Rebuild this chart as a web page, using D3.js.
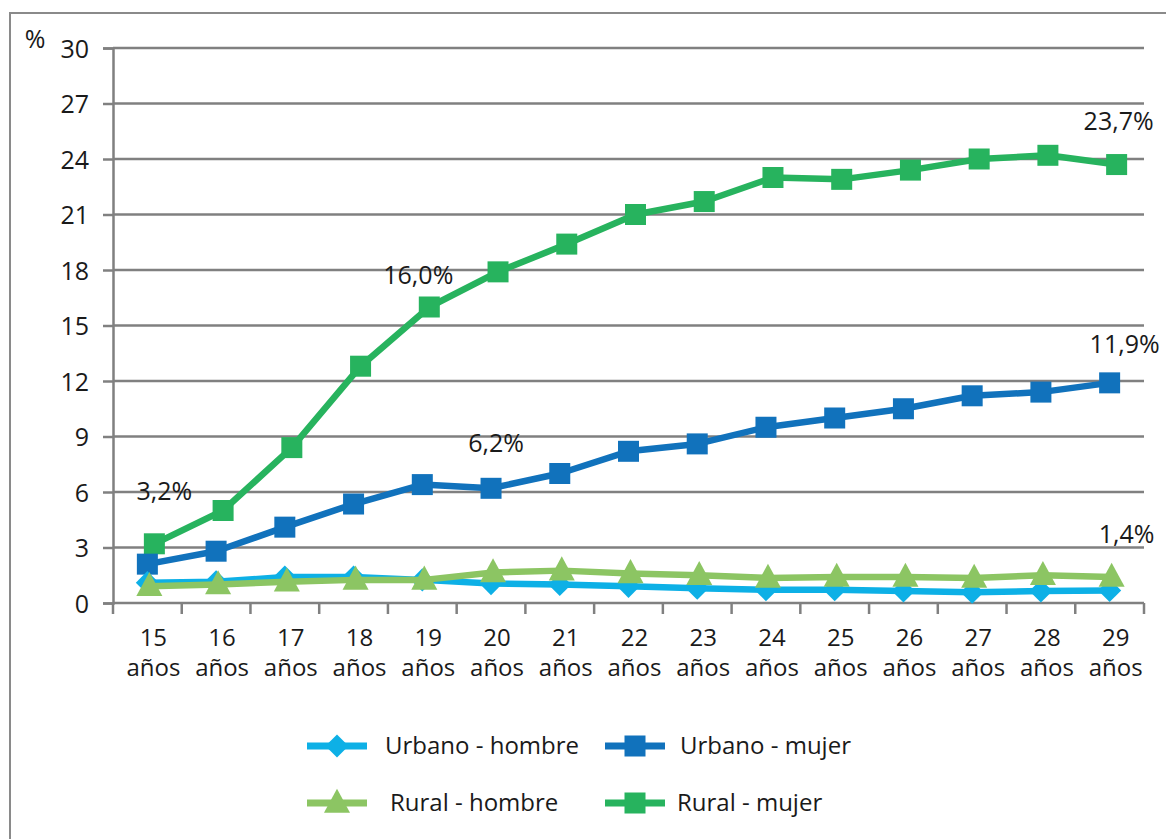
<!DOCTYPE html>
<html>
<head>
<meta charset="utf-8">
<script src="https://cdn.jsdelivr.net/npm/d3@7"></script>
<style>
  body { margin: 0; background: #fff; }
  svg { display: block; }
  text { font-family: "Open Sans", sans-serif; fill: #1a1a1a; }
</style>
</head>
<body>
<svg id="chart" width="1166" height="839"></svg>
<script>
// categories (age) and the four series
var ages = ["15", "16", "17", "18", "19", "20", "21", "22", "23", "24", "25", "26", "27", "28", "29"];
var yTicks = [0, 3, 6, 9, 12, 15, 18, 21, 24, 27, 30];

var urbanoHombre = [1.1, 1.15, 1.4, 1.4, 1.25, 1.05, 1.0, 0.9, 0.8, 0.72, 0.72, 0.65, 0.58, 0.65, 0.68];
var urbanoMujer  = [2.1, 2.8, 4.1, 5.35, 6.4, 6.2, 7.0, 8.2, 8.6, 9.5, 10.0, 10.5, 11.2, 11.4, 11.9];
var ruralHombre  = [0.9, 1.0, 1.15, 1.25, 1.25, 1.65, 1.75, 1.6, 1.5, 1.35, 1.4, 1.4, 1.35, 1.5, 1.4];
var ruralMujer   = [3.2, 5.0, 8.4, 12.8, 16.0, 17.9, 19.4, 21.0, 21.7, 23.0, 22.9, 23.4, 24.0, 24.2, 23.7];

// labelled points: [series, index, text]
var labels = [
  ["ruralMujer", 0, "3,2%"],
  ["ruralMujer", 4, "16,0%"],
  ["ruralMujer", 14, "23,7%"],
  ["urbanoMujer", 5, "6,2%"],
  ["urbanoMujer", 14, "11,9%"],
  ["ruralHombre", 14, "1,4%"]
];

var series = [
  { key: "ruralMujer",   name: "Rural - mujer",   values: ruralMujer,   color: "#27b35e", shape: "square",   dx: 7 },
  { key: "urbanoMujer",  name: "Urbano - mujer",  values: urbanoMujer,  color: "#1172bc", shape: "square",   dx: 0 },
  { key: "urbanoHombre", name: "Urbano - hombre", values: urbanoHombre, color: "#0db0e6", shape: "diamond",  dx: 0 },
  { key: "ruralHombre",  name: "Rural - hombre",  values: ruralHombre,  color: "#8cc563", shape: "triangle", dx: 2 }
];

var svg = d3.select("#chart");

// outer frame
svg.append("rect")
  .attr("x", 10).attr("y", 13)
  .attr("width", 1200).attr("height", 900)
  .attr("fill", "none").attr("stroke", "#8a8a8a").attr("stroke-width", 2);

var x = d3.scaleBand().domain(ages).range([113, 1144]).padding(0);
var y = d3.scaleLinear().domain([0, 30]).range([603, 48]);
var cx = function(i) { return x(ages[i]) + x.bandwidth() / 2; };

var grey = "#808080";

// horizontal grid
svg.append("g").selectAll("line")
  .data(yTicks.filter(function(d) { return d > 0; }))
  .enter().append("line")
  .attr("x1", 113).attr("x2", 1144)
  .attr("y1", function(d) { return y(d); })
  .attr("y2", function(d) { return y(d); })
  .attr("stroke", grey).attr("stroke-width", 2.5);

// y axis
var yAxis = svg.append("g")
  .attr("transform", "translate(113,0)")
  .call(d3.axisLeft(y).tickValues(yTicks).tickSize(10).tickPadding(14));
yAxis.select(".domain").attr("stroke", grey).attr("stroke-width", 2.5);
yAxis.selectAll(".tick line").attr("stroke", grey).attr("stroke-width", 2.5);
yAxis.selectAll(".tick text")
  .style("font-family", "'Open Sans', sans-serif")
  .style("font-size", "25px")
  .attr("fill", "#1a1a1a")
  .attr("dy", "0.36em");

svg.append("text")
  .attr("x", 35).attr("y", 48)
  .attr("text-anchor", "middle")
  .style("font-size", "25px")
  .text("%");

// x axis: baseline plus ticks on band boundaries
svg.append("line")
  .attr("x1", 113).attr("x2", 1144)
  .attr("y1", y(0)).attr("y2", y(0))
  .attr("stroke", grey).attr("stroke-width", 2.5);

var bounds = ages.map(function(a) { return x(a); }).concat([x.range()[1]]);
svg.append("g").selectAll("line")
  .data(bounds)
  .enter().append("line")
  .attr("x1", function(d) { return d; }).attr("x2", function(d) { return d; })
  .attr("y1", y(0)).attr("y2", y(0) + 11)
  .attr("stroke", grey).attr("stroke-width", 2.5);

var xl = svg.append("g").selectAll("text")
  .data(ages)
  .enter().append("text")
  .attr("text-anchor", "middle")
  .attr("x", function(d, i) { return cx(i) + 6; })
  .attr("y", 646)
  .style("font-size", "24px");
xl.append("tspan").text(function(d) { return d; });
xl.append("tspan")
  .attr("x", function(d, i) { return cx(i) + 6; })
  .attr("dy", 30)
  .text("años");

// markers
function marker(sel, shape, size) {
  if (shape === "square") {
    sel.append("rect")
      .attr("x", -size / 2).attr("y", -size / 2)
      .attr("width", size).attr("height", size);
  } else if (shape === "diamond") {
    var h = size * 0.55;
    sel.append("path").attr("d", "M0," + (-h) + "L" + h + ",0L0," + h + "L" + (-h) + ",0Z");
  } else {
    var s = size * 0.62;
    sel.append("path").attr("d", "M0," + (-s * 1.1) + "L" + s + "," + (s * 0.75) + "L" + (-s) + "," + (s * 0.75) + "Z");
  }
}

var line = d3.line()
  .x(function(d, i) { return cx(i); })
  .y(function(d) { return y(d); });

series.forEach(function(s) {
  var g = svg.append("g").attr("transform", "translate(" + s.dx + ",0)");
  g.append("path")
    .datum(s.values)
    .attr("d", line)
    .attr("fill", "none")
    .attr("stroke", s.color)
    .attr("stroke-width", 6.5)
    .attr("stroke-linejoin", "round");
  g.selectAll(".m")
    .data(s.values)
    .enter().append("g")
    .attr("class", "m")
    .attr("fill", s.color)
    .attr("transform", function(d, i) { return "translate(" + cx(i) + "," + y(d) + ")"; })
    .each(function() { marker(d3.select(this), s.shape, 21); });
});

// data labels (offset of label centre / baseline from its point)
var lblOffset = {
  "3,2%": [10, -44], "16,0%": [-11, -23], "23,7%": [2, -35],
  "6,2%": [5, -36], "11,9%": [15, -30], "1,4%": [15, -34]
};
labels.forEach(function(l) {
  var s = series.filter(function(d) { return d.key === l[0]; })[0];
  var o = lblOffset[l[2]];
  svg.append("text")
    .attr("x", cx(l[1]) + s.dx + o[0])
    .attr("y", y(s.values[l[1]]) + o[1])
    .attr("text-anchor", "middle")
    .style("font-size", "25px")
    .text(l[2]);
});

// legend
var legendItems = [
  { s: series[2], x: 307, y: 746, tx: 385 },
  { s: series[1], x: 605, y: 746, tx: 680 },
  { s: series[3], x: 307, y: 803, tx: 390 },
  { s: series[0], x: 605, y: 803, tx: 677 }
];
var lg = svg.append("g").selectAll("g")
  .data(legendItems)
  .enter().append("g")
  .attr("transform", function(d) { return "translate(" + d.x + "," + d.y + ")"; });
lg.append("line")
  .attr("x1", 0).attr("x2", 60)
  .attr("stroke", function(d) { return d.s.color; })
  .attr("stroke-width", 7);
lg.append("g")
  .attr("transform", "translate(30,0)")
  .attr("fill", function(d) { return d.s.color; })
  .each(function(d) { marker(d3.select(this), d.s.shape, 21); });
lg.append("text")
  .attr("x", function(d) { return d.tx - d.x; })
  .attr("dy", "0.35em")
  .style("font-size", "24px")
  .text(function(d) { return d.s.name; });
</script>
</body>
</html>
